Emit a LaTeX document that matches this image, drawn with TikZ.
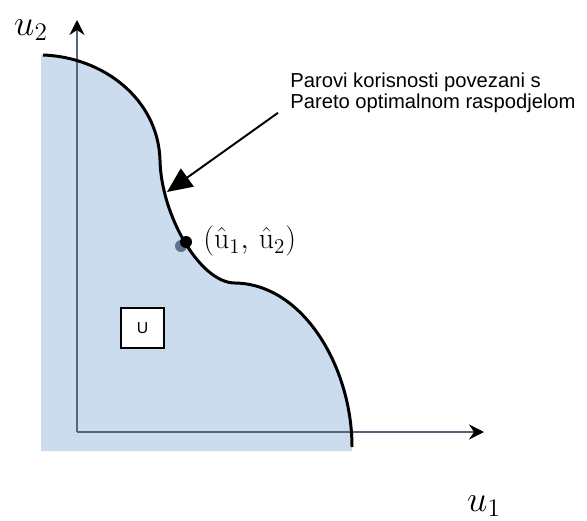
\documentclass[tikz,border=0pt]{standalone}
\usepackage{fontspec}
\setsansfont{Liberation Sans}
\usetikzlibrary{arrows.meta}
\definecolor{regfill}{HTML}{CADCEE}
\definecolor{axisgray}{HTML}{56657A}
\definecolor{dotshade}{HTML}{5B7391}
\begin{document}
\begin{tikzpicture}[x=0.02cm, y=-0.02cm]
        \useasboundingbox (0,0) rectangle (587,520);
        \def\r{6}

        % Region U
        \fill[regfill] (41,55) -- (43,55) .. controls (102,57) and (158,98) .. (160,160)
            .. controls (161,215) and (200,283) .. (235,283)
            .. controls (303,284) and (352,367) .. (352,447)
            -- (352,451) -- (41,451) -- cycle;

        % Axes
        \coordinate (o) at (77,432);
        \coordinate (xend) at (484,432);
        \coordinate (yend) at (77,20);
        \draw[axisgray, line width=0.9pt, -{Stealth[length=3mm, width=3mm, inset=1mm, black]}] (o) -- (xend);
        \draw[axisgray, line width=0.9pt, -{Stealth[length=3mm, width=3mm, inset=1mm, black]}] (o) -- (yend);

        % Pareto frontier
        \draw[line width=1.7pt] (43,55) .. controls (102,57) and (158,98) .. (160,160)
            .. controls (161,215) and (200,283) .. (235,283)
            .. controls (303,284) and (352,367) .. (352,447);

        % Point (u1, u2)
        \fill[dotshade] (181,246) circle (\r);
        \node[circle, fill=black, inner sep=0pt, minimum size=0.24cm] (pt) at (186,242) {};
        \node[anchor=west, inner sep=0pt, font=\fontsize{17}{20}\selectfont] (ptlab) at (203,241)
            {$(\hat{\mathrm{u}}_1,\, \hat{\mathrm{u}}_2)$};

        % Axis labels
        \node[font=\fontsize{20}{24}\selectfont] (u2) at (31,30) {$u_2$};
        \node[font=\fontsize{20}{24}\selectfont] (u1) at (484,506) {$u_1$};

        % Set label
        \node[draw, fill=white, line width=0.6pt, minimum width=0.86cm, minimum height=0.8cm,
            inner sep=0pt, font=\sffamily\fontsize{9}{10}\selectfont] (U) at (142.5,328) {U};

        % Annotation
        \node[anchor=west, align=left, inner sep=0pt, font=\sffamily\fontsize{11.5}{12}\selectfont]
            (note) at (290,92.5) {Parovi korisnosti povezani s\\Pareto optimalnom raspodjelom};
        \coordinate (tip) at (167,192);
        \draw[line width=1.1pt, -{Triangle[length=5mm, width=4.4mm]}] ([xshift=-0.24cm]note.south west) -- (tip);
    \end{tikzpicture}
\end{document}
